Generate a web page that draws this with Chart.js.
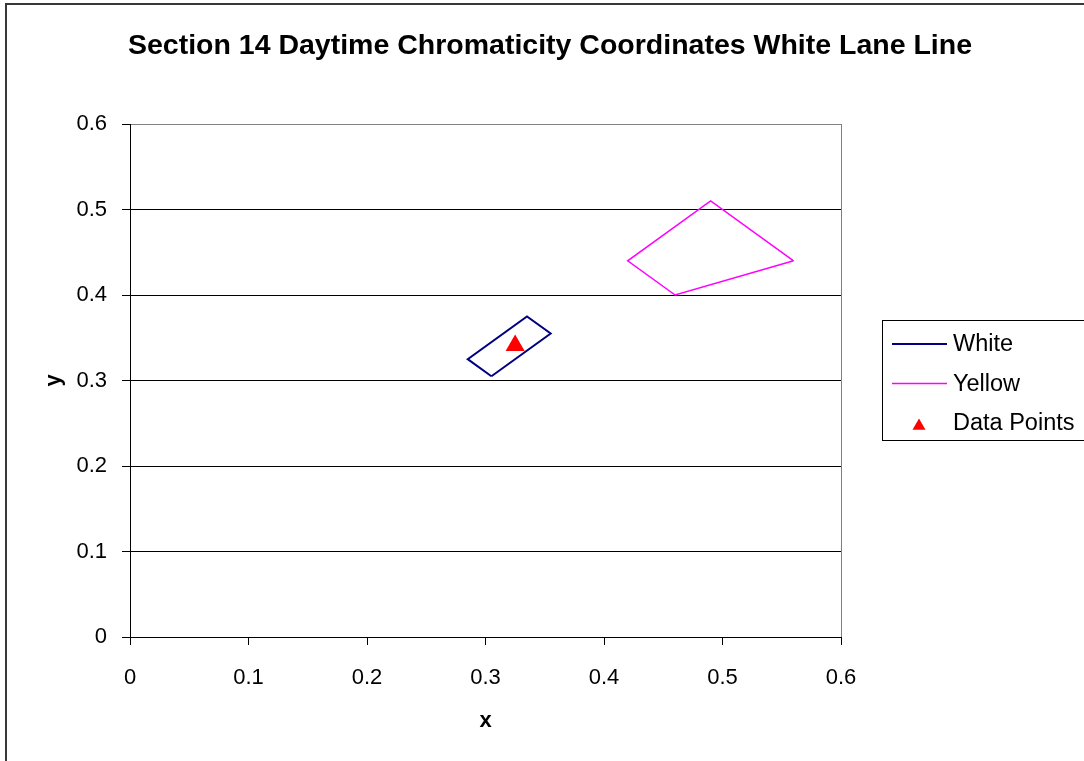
<!DOCTYPE html>
<html lang="en">
<head>
<meta charset="utf-8">
<title>Section 14 Daytime Chromaticity Coordinates White Lane Line</title>
<script src="https://cdn.jsdelivr.net/npm/chart.js@4.4.1/dist/chart.umd.min.js"></script>
<style>
  html, body { margin: 0; padding: 0; background: #fff; overflow: hidden; }
  canvas { display: block; }
</style>
</head>
<body>
<canvas id="grafico" width="1084" height="761"></canvas>
<script>
// ------------------------------------------------------------
// Dados do gráfico — coordenadas de cromaticidade (x, y)
// ------------------------------------------------------------
// Caixa de tolerância da cor branca (polígono fechado: repete o 1º ponto)
const whiteX = [0.305, 0.355, 0.335, 0.285, 0.305];
const whiteY = [0.305, 0.355, 0.375, 0.325, 0.305];

// Caixa de tolerância da cor amarela
const yellowX = [0.560, 0.460, 0.420, 0.490, 0.560];
const yellowY = [0.440, 0.400, 0.440, 0.510, 0.440];

// Leitura medida na faixa
const pontosX = [0.325];
const pontosY = [0.341];

// Marcas dos eixos (iguais em x e y)
const valoresEixo = [0, 0.1, 0.2, 0.3, 0.4, 0.5, 0.6];
const rotulosEixo = ['0', '0.1', '0.2', '0.3', '0.4', '0.5', '0.6'];

const TITULO = 'Section 14 Daytime Chromaticity Coordinates White Lane Line';
const FONTE = "'Liberation Sans', Arial, sans-serif";

// junta os dois arrays em pares {x, y} para o Chart.js
function pares(xs, ys) {
  return xs.map((x, i) => ({ x: x, y: ys[i] }));
}


// Moldura externa, título, borda direita da área do gráfico e legenda
const molduraPlugin = {
  id: 'moldura',
  afterDraw(chart) {
    const ctx = chart.ctx;
    const area = chart.chartArea;
    ctx.save();

    // borda do quadro inteiro
    ctx.strokeStyle = '#383838';
    ctx.lineWidth = 2;
    ctx.strokeRect(6, 4, 1200, 900);

    // borda cinza à direita da área de plotagem
    ctx.strokeStyle = '#808080';
    ctx.lineWidth = 1;
    ctx.beginPath();
    ctx.moveTo(Math.round(area.right) + 0.5, area.top);
    ctx.lineTo(Math.round(area.right) + 0.5, area.bottom);
    ctx.stroke();

    // título
    ctx.fillStyle = '#000';
    ctx.font = 'bold 28.5px ' + FONTE;
    ctx.textAlign = 'center';
    ctx.textBaseline = 'middle';
    ctx.fillText(TITULO, 550, 46);

    // legenda com caixa
    const caixa = { x: 882, y: 320, w: 230, h: 120 };
    ctx.strokeStyle = '#000';
    ctx.lineWidth = 1;
    ctx.strokeRect(caixa.x + 0.5, caixa.y + 0.5, caixa.w, caixa.h);

    ctx.font = '23.5px ' + FONTE;
    ctx.textAlign = 'left';
    chart.data.datasets.forEach((ds, i) => {
      const yLinha = caixa.y + 24 + i * 39.5;
      if (ds.showLine) {
        ctx.strokeStyle = ds.borderColor;
        ctx.lineWidth = ds.borderWidth;
        ctx.beginPath();
        ctx.moveTo(892, yLinha);
        ctx.lineTo(947, yLinha);
        ctx.stroke();
      } else {
        ctx.fillStyle = ds.backgroundColor;
        Chart.helpers.drawPoint(ctx, { pointStyle: 'triangle', radius: 7.5, borderWidth: 0, rotation: 0 }, 919, yLinha + 3);
      }
      ctx.fillStyle = '#000';
      ctx.fillText(ds.label, 953, yLinha + 1);
    });

    ctx.restore();
  }
};


new Chart(document.getElementById('grafico'), {
  type: 'scatter',
  data: {
    datasets: [
      {
        label: 'White',
        data: pares(whiteX, whiteY),
        showLine: true,
        borderColor: '#000080',
        borderWidth: 2,
        pointRadius: 0,
        fill: false,
        tension: 0
      },
      {
        label: 'Yellow',
        data: pares(yellowX, yellowY),
        showLine: true,
        borderColor: '#FF00FF',
        borderWidth: 1.5,
        pointRadius: 0,
        fill: false,
        tension: 0
      },
      {
        label: 'Data Points',
        data: pares(pontosX, pontosY),
        showLine: false,
        pointStyle: 'triangle',
        pointRadius: 11,
        backgroundColor: '#FF0000',
        borderColor: '#FF0000',
        borderWidth: 0
      }
    ]
  },
  options: {
    responsive: false,
    animation: false,
    events: [],
    // área de plotagem fixa: 130..841 na horizontal, 124..637 na vertical
    layout: { padding: { top: 124, right: 243, bottom: 0, left: 0 } },
    plugins: {
      legend: { display: false },  // legenda desenhada pelo plugin acima
      title: { display: false },
      tooltip: { enabled: false }
    },
    scales: {
      x: {
        type: 'linear',
        min: 0,
        max: 0.6,
        afterFit: s => { s.height = 124; },
        afterBuildTicks: s => { s.ticks = valoresEixo.map(v => ({ value: v })); },
        ticks: {
          callback: (v, i) => rotulosEixo[i],
          color: '#000',
          font: { family: FONTE, size: 22 },
          padding: 20,
          maxRotation: 0,
          autoSkip: false
        },
        grid: { drawOnChartArea: false, tickLength: 8, color: '#000' },
        border: { color: '#000', width: 1 },
        title: {
          display: true,
          text: 'x',
          color: '#000',
          font: { family: FONTE, size: 22, weight: 'bold' },
          padding: { top: 0, bottom: 27 }
        }
      },
      y: {
        type: 'linear',
        min: 0,
        max: 0.6,
        afterFit: s => { s.width = 130; },
        afterBuildTicks: s => { s.ticks = valoresEixo.map(v => ({ value: v })); },
        ticks: {
          callback: (v, i) => rotulosEixo[i],
          color: '#000',
          font: { family: FONTE, size: 22 },
          padding: 15,
          autoSkip: false
        },
        grid: {
          tickLength: 8,
          // linha do topo (0.6) é a borda cinza da área de plotagem
          color: ctx => (ctx.tick && ctx.tick.value === 0.6) ? '#808080' : '#000',
          tickColor: '#000'
        },
        border: { color: '#000', width: 1 },
        title: {
          display: true,
          text: 'y',
          color: '#000',
          font: { family: FONTE, size: 22, weight: 'bold' },
          padding: { top: 41, bottom: 0 }
        }
      }
    }
  },
  plugins: [molduraPlugin]
});
</script>
</body>
</html>
